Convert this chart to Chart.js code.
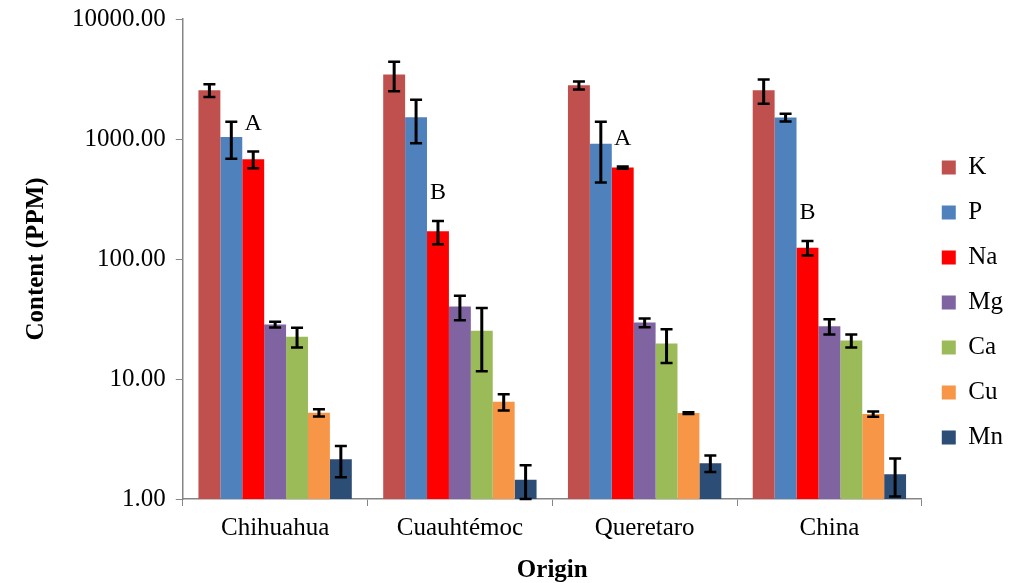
<!DOCTYPE html>
<html>
<head>
    <meta charset="utf-8">
    <title>Mineral content by origin</title>
    <script src="https://cdn.jsdelivr.net/npm/chart.js"></script>
    <style>
        body { margin: 0; background: #fff; }
        #wrap { width: 1021px; height: 583px; }
    </style>
</head>
<body>
    <div id="wrap"><canvas id="mineralChart"></canvas></div>
    <script>
        // Categories and series (PPM)
        const origins = ['Chihuahua', 'Cuauhtémoc', 'Queretaro', 'China'];
        const elements = ['K', 'P', 'Na', 'Mg', 'Ca', 'Cu', 'Mn'];

        const K  = [2550, 3450, 2800, 2550];
        const P  = [1040, 1520, 915, 1510];
        const Na = [678, 170, 578, 124];
        const Mg = [28.4, 40.1, 29.5, 27.5];
        const Ca = [22.5, 25.3, 19.8, 20.9];
        const Cu = [5.23, 6.46, 5.2, 5.1];
        const Mn = [2.14, 1.45, 1.99, 1.61];

        // error bar half-widths
        const K_err  = [310, 950, 215, 580];
        const P_err  = [355, 600, 480, 110];
        const Na_err = [108, 37, 12, 17];
        const Mg_err = [1.6, 9.3, 2.5, 4.0];
        const Ca_err = [4.2, 13.7, 6.2, 2.6];
        const Cu_err = [0.36, 1.0, 0.08, 0.25];
        const Mn_err = [0.62, 0.46, 0.31, 0.56];

        // significance letters above the Na bars
        const naLetters = ['A', 'B', 'A', 'B'];

        const yTicks = [1, 10, 100, 1000, 10000];

        const colors = ['#C0504D', '#4F81BD', '#FF0000', '#8064A2', '#9BBB59', '#F79646', '#2C4D75'];
        const values = [K, P, Na, Mg, Ca, Cu, Mn];
        const errors = [K_err, P_err, Na_err, Mg_err, Ca_err, Cu_err, Mn_err];

        const serif = "'Liberation Serif', 'Times New Roman', serif";

        const datasets = elements.map((name, i) => ({
            label: name,
            data: values[i],
            errors: errors[i],
            backgroundColor: colors[i],
            borderWidth: 0,
            categoryPercentage: 0.83,
            barPercentage: 1.0
        }));

        // draws the error bars and the letters
        const errorBars = {
            id: 'errorBars',
            afterDatasetsDraw(chart) {
                const ctx = chart.ctx;
                const y = chart.scales.y;
                ctx.save();
                ctx.strokeStyle = '#000';
                chart.data.datasets.forEach((ds, di) => {
                    const meta = chart.getDatasetMeta(di);
                    meta.data.forEach((bar, j) => {
                        const v = ds.data[j], e = ds.errors[j];
                        const yt = y.getPixelForValue(v + e);
                        const yb = y.getPixelForValue(Math.max(v - e, 1));
                        const x = bar.x;
                        ctx.lineWidth = 3;
                        ctx.beginPath();
                        ctx.moveTo(x, yt); ctx.lineTo(x, yb);
                        ctx.stroke();
                        ctx.lineWidth = 2.5;
                        ctx.beginPath();
                        ctx.moveTo(x - 6, yt); ctx.lineTo(x + 6, yt);
                        ctx.moveTo(x - 6, yb); ctx.lineTo(x + 6, yb);
                        ctx.stroke();
                    });
                });
                // letters over Na
                const naIdx = elements.indexOf('Na');
                const naMeta = chart.getDatasetMeta(naIdx);
                ctx.fillStyle = '#000';
                ctx.font = '24px ' + serif;
                ctx.textAlign = 'center';
                ctx.textBaseline = 'middle';
                naMeta.data.forEach((bar, j) => {
                    const yt = y.getPixelForValue(Na[j] + Na_err[j]);
                    ctx.fillText(naLetters[j], bar.x, yt - 28);
                });
                ctx.restore();
            }
        };

        Chart.defaults.font.family = serif;
        Chart.defaults.color = '#000';

        new Chart(document.getElementById('mineralChart'), {
            type: 'bar',
            data: { labels: origins, datasets: datasets },
            options: {
                responsive: true,
                maintainAspectRatio: false,
                animation: false,
                layout: { padding: { top: 19, right: 8, left: 22, bottom: -3 } },
                plugins: {
                    legend: {
                        position: 'right',
                        labels: {
                            boxWidth: 14,
                            boxHeight: 14,
                            padding: 20,
                            font: { size: 25 }
                        }
                    },
                    tooltip: { enabled: false }
                },
                scales: {
                    x: {
                        grid: { drawOnChartArea: false, tickLength: 7, color: '#868686' },
                        border: { color: '#868686', width: 1.5 },
                        ticks: { font: { size: 25 }, padding: 7 },
                        title: { display: true, text: 'Origin', font: { size: 25, weight: 'bold' }, padding: { top: 6, bottom: 0 } }
                    },
                    y: {
                        type: 'logarithmic',
                        min: 1,
                        max: 10000,
                        afterBuildTicks(axis) {
                            axis.ticks = yTicks.map(v => ({ value: v }));
                        },
                        afterFit(axis) {
                            axis.paddingTop = 0;
                        },
                        grid: { drawOnChartArea: false, tickLength: 7, color: '#868686' },
                        border: { color: '#868686', width: 1.5 },
                        ticks: {
                            font: { size: 25 },
                            padding: 10,
                            callback: v => Number(v).toFixed(2)
                        },
                        title: { display: true, text: 'Content (PPM)', font: { size: 25, weight: 'bold' }, padding: { top: 0, bottom: 10 } }
                    }
                }
            },
            plugins: [errorBars]
        });
    </script>
</body>
</html>
